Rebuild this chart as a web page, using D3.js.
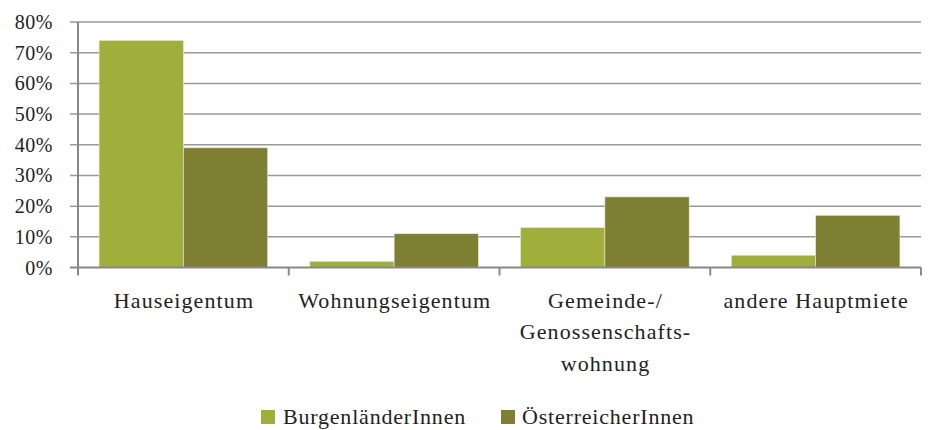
<!DOCTYPE html>
<html><head><meta charset="utf-8">
<script src="https://cdn.jsdelivr.net/npm/d3@7"></script>
<style>body{margin:0;background:#fff}svg{display:block}text{font-family:"Liberation Serif","DejaVu Serif",serif;fill:#222}</style>
</head><body><svg id="c" width="930" height="430"></svg>
<script>
const categories = [["Hauseigentum"],["Wohnungseigentum"],["Gemeinde-/","Genossenschafts-","wohnung"],["andere Hauptmiete"]];
const seriesNames = ["BurgenländerInnen","ÖsterreicherInnen"];
const burgenland = [74, 2, 13, 4];
const oesterreich = [39, 11, 23, 17];
const yTicks = [0,10,20,30,40,50,60,70,80];
const colors = ["#A0AE3B","#7E7F33"];

const svg = d3.select("#c");
const L = 78, R = 921, T = 22, B = 267.5;
const x0 = d3.scaleBand().domain(d3.range(categories.length)).range([L,R]).padding(0);
const bw = x0.bandwidth();
const x1 = d3.scaleBand().domain([0,1]).range([bw*0.1, bw*0.9]).padding(0);
const y = d3.scaleLinear().domain([0,80]).range([B,T]);

// gridlines
svg.append("g").selectAll("line").data(yTicks.filter(d=>d>0)).join("line")
  .attr("x1",L-8).attr("x2",R).attr("y1",d=>y(d)).attr("y2",d=>y(d))
  .attr("stroke","#999").attr("stroke-width",1.5);

// bars
const data = [burgenland, oesterreich];
const g = svg.append("g");
categories.forEach((c,i)=>{
  data.forEach((s,j)=>{
    g.append("rect").attr("x",x0(i)+x1(j)).attr("y",y(s[i]))
     .attr("width",x1.bandwidth()).attr("height",B-y(s[i]))
     .attr("fill",colors[j]).attr("stroke","#e8ecd0").attr("stroke-width",0.6);
  });
});

// axes
svg.append("line").attr("x1",L).attr("x2",L).attr("y1",T).attr("y2",B).attr("stroke","#888").attr("stroke-width",2);
svg.append("line").attr("x1",L-8).attr("x2",R).attr("y1",B).attr("y2",B).attr("stroke","#888").attr("stroke-width",2);
svg.append("g").selectAll("line").data(d3.range(categories.length+1)).join("line")
  .attr("x1",d=>L+d*bw).attr("x2",d=>L+d*bw).attr("y1",B).attr("y2",B+8)
  .attr("stroke","#888").attr("stroke-width",2);

svg.append("g").selectAll("text").data(yTicks).join("text")
  .attr("x",53).attr("y",d=>y(d)+7).attr("text-anchor","end")
  .attr("font-size",20).attr("letter-spacing",0.5).text(d=>d+"%");

// category labels
categories.forEach((c,i)=>{
  const cx = x0(i)+bw/2 + 0.6;
  const t = svg.append("text").attr("text-anchor","middle").attr("font-size",22)
    .attr("letter-spacing",1.1).attr("x",cx).attr("y",307.5);
  c.forEach((line,k)=>t.append("tspan").attr("x",cx).attr("dy",k?31.5:0).text(line));
});

// legend
const leg = [{x:261,tx:283},{x:501,tx:522}];
seriesNames.forEach((n,j)=>{
  svg.append("rect").attr("x",leg[j].x).attr("y",410).attr("width",14).attr("height",14).attr("fill",colors[j]);
  svg.append("text").attr("x",leg[j].tx).attr("y",424).attr("font-size",22).attr("letter-spacing",0.8).text(n);
});
</script></body></html>
